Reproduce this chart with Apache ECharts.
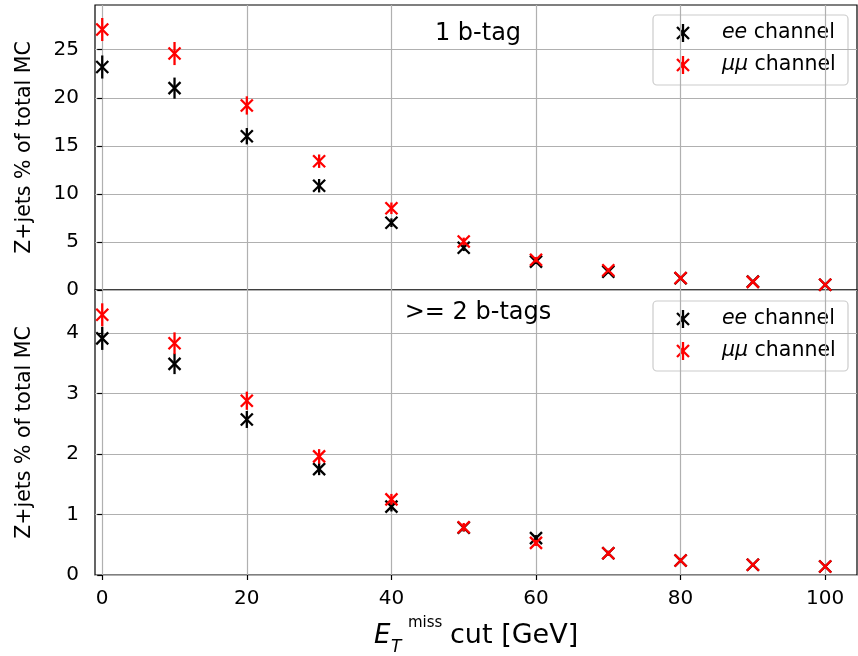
<!DOCTYPE html>
<html><head><meta charset="utf-8">
<script src="https://cdn.jsdelivr.net/npm/echarts@6/dist/echarts.min.js"></script>
<style>html,body{margin:0;padding:0;background:#fff}#c{width:858px;height:656px}</style>
</head><body><div id="c"></div>
<script>
// ---- data ----
const cuts = [0, 10, 20, 30, 40, 50, 60, 70, 80, 90, 100];
// 1 b-tag
const ee1 = [23.2, 21.0, 16.0, 10.85, 7.0, 4.4, 2.95, 1.9, 1.22, 0.87, 0.55];
const ee1Err = [1.2, 1.1, 0.85, 0.7, 0.45, 0.35, 0.25, 0.18, 0.12, 0.1, 0.08];
const mu1 = [27.1, 24.6, 19.2, 13.4, 8.5, 5.05, 3.15, 2.05, 1.25, 0.85, 0.55];
const mu1Err = [1.2, 1.2, 0.95, 0.7, 0.6, 0.4, 0.28, 0.2, 0.12, 0.1, 0.08];
// >= 2 b-tags
const ee2 = [3.91, 3.49, 2.57, 1.75, 1.13, 0.78, 0.61, 0.36, 0.24, 0.17, 0.14];
const ee2Err = [0.19, 0.17, 0.14, 0.1, 0.08, 0.06, 0.05, 0.04, 0.03, 0.02, 0.02];
const mu2 = [4.30, 3.83, 2.88, 1.96, 1.25, 0.79, 0.53, 0.36, 0.24, 0.17, 0.14];
const mu2Err = [0.19, 0.18, 0.15, 0.12, 0.09, 0.07, 0.05, 0.04, 0.03, 0.02, 0.02];
// ticks
const xTicks = [0, 20, 40, 60, 80, 100];
const yTicks1 = [0, 5, 10, 15, 20, 25];
const yTicks2 = [0, 1, 2, 3, 4];

const FONT = 'DejaVu Sans';
const GRIDC = '#b0b0b0';

function rows(v, e) { return cuts.map((c, i) => [c, v[i], e[i]]); }

function makeRender(color) {
  return function (params, api) {
    const x = api.value(0), y = api.value(1), e = api.value(2);
    const p = api.coord([x, y]);
    const lo = api.coord([x, y - e]), hi = api.coord([x, y + e]);
    const s = 6;
    const st = { stroke: color, lineWidth: 2.3 };
    return { type: 'group', children: [
      { type: 'line', shape: { x1: p[0], y1: lo[1], x2: p[0], y2: hi[1] }, style: st },
      { type: 'line', shape: { x1: p[0] - s, y1: p[1] - s, x2: p[0] + s, y2: p[1] + s }, style: st },
      { type: 'line', shape: { x1: p[0] - s, y1: p[1] + s, x2: p[0] + s, y2: p[1] - s }, style: st }
    ]};
  };
}

function series(idx, v, e, color, z) {
  return { type: 'custom', xAxisIndex: idx, yAxisIndex: idx, data: rows(v, e),
    encode: { x: 0, y: 1 }, renderItem: makeRender(color), z: z, clip: false };
}

function xAxis(idx, showLabels) {
  return { type: 'value', gridIndex: idx, min: -1, max: 104.4,
    axisLine: { show: false },
    axisTick: { show: showLabels, customValues: xTicks, length: 5, lineStyle: { color: '#000', width: 1.2 } },
    axisLabel: { show: showLabels, customValues: xTicks, fontFamily: FONT, fontSize: 20, color: '#000', margin: 14 },
    splitLine: { show: true, lineStyle: { color: GRIDC, width: 1.2 } },
    interval: 20
  };
}

function yAxis(idx, max, ticks, interval) {
  return { type: 'value', gridIndex: idx, min: 0, max: max, interval: interval,
    name: 'Z+jets % of total MC', nameLocation: 'middle', nameRotate: 90, nameGap: 60,
    nameTextStyle: { fontFamily: FONT, fontSize: 20.5, color: '#000' },
    axisLine: { show: false },
    axisTick: { show: true, customValues: ticks, length: 5, lineStyle: { color: '#000', width: 1.2 } },
    axisLabel: { customValues: ticks, fontFamily: FONT, fontSize: 20, color: '#000', margin: 16 },
    splitLine: { show: true, lineStyle: { color: GRIDC, width: 1.2 } }
  };
}

function legend(top, z) {
  const rowsY = [top + 18, top + 50];
  const cols = ['#000', '#ff0000'];
  const names = [['ee', ' channel'], ['μμ', ' channel']];
  const children = [{ type: 'rect', shape: { x: 653, y: top, width: 195, height: 70, r: 4 },
    style: { fill: 'rgba(255,255,255,0.8)', stroke: '#cccccc', lineWidth: 1.2 } }];
  rowsY.forEach((y, i) => {
    const st = { stroke: cols[i], lineWidth: 2.3 };
    const cx = 683, s = 6;
    children.push({ type: 'line', shape: { x1: cx, y1: y - 9, x2: cx, y2: y + 9 }, style: st });
    children.push({ type: 'line', shape: { x1: cx - s, y1: y - s, x2: cx + s, y2: y + s }, style: st });
    children.push({ type: 'line', shape: { x1: cx - s, y1: y + s, x2: cx + s, y2: y - s }, style: st });
    children.push({ type: 'text', x: 722, y: y, style: {
      text: '{i|' + names[i][0] + '}{n|' + names[i][1] + '}', verticalAlign: 'middle', align: 'left',
      rich: { i: { fontFamily: FONT, fontStyle: 'italic', fontSize: 20.5, fill: '#000' },
              n: { fontFamily: FONT, fontSize: 20.5, fill: '#000' } } } });
  });
  return { type: 'group', z: z, children: children };
}

const chart = echarts.init(document.getElementById('c'), null, { renderer: 'canvas' });
chart.setOption({
  animation: false,
  backgroundColor: '#fff',
  grid: [
    { left: 95, right: 1, top: 5, height: 285, show: true, borderColor: '#000', borderWidth: 1.2, backgroundColor: 'transparent' },
    { left: 95, right: 1, top: 290, height: 285, show: true, borderColor: '#000', borderWidth: 1.2, backgroundColor: 'transparent' }
  ],
  xAxis: [xAxis(0, false), xAxis(1, true)],
  yAxis: [yAxis(0, 29.65, yTicks1, 5), yAxis(1, 4.71, yTicks2, 1)],
  series: [
    series(0, ee1, ee1Err, '#000', 2),
    series(0, mu1, mu1Err, '#ff0000', 3),
    series(1, ee2, ee2Err, '#000', 2),
    series(1, mu2, mu2Err, '#ff0000', 3)
  ],
  graphic: [
    { type: 'text', x: 478, y: 33.5, z: 10, style: { text: '1 b-tag', fontFamily: FONT, fontSize: 24, fill: '#000', align: 'center', verticalAlign: 'middle' } },
    { type: 'text', x: 478, y: 313, z: 10, style: { text: '>= 2 b-tags', fontFamily: FONT, fontSize: 24, fill: '#000', align: 'center', verticalAlign: 'middle' } },
    legend(15, 20),
    legend(301, 20),
    { type: 'text', x: 374, y: 636, z: 10, style: { text: 'E', fontFamily: FONT, fontStyle: 'italic', fontSize: 26, fill: '#000', align: 'left', verticalAlign: 'middle' } },
    { type: 'text', x: 391, y: 648, z: 10, style: { text: 'T', fontFamily: FONT, fontStyle: 'italic', fontSize: 17, fill: '#000', align: 'left', verticalAlign: 'middle' } },
    { type: 'text', x: 408, y: 623.5, z: 10, style: { text: 'miss', fontFamily: FONT, fontSize: 15, fill: '#000', align: 'left', verticalAlign: 'middle' } },
    { type: 'text', x: 450, y: 636, z: 10, style: { text: 'cut [GeV]', fontFamily: FONT, fontSize: 27, fill: '#000', align: 'left', verticalAlign: 'middle' } }
  ]
});
</script></body></html>
